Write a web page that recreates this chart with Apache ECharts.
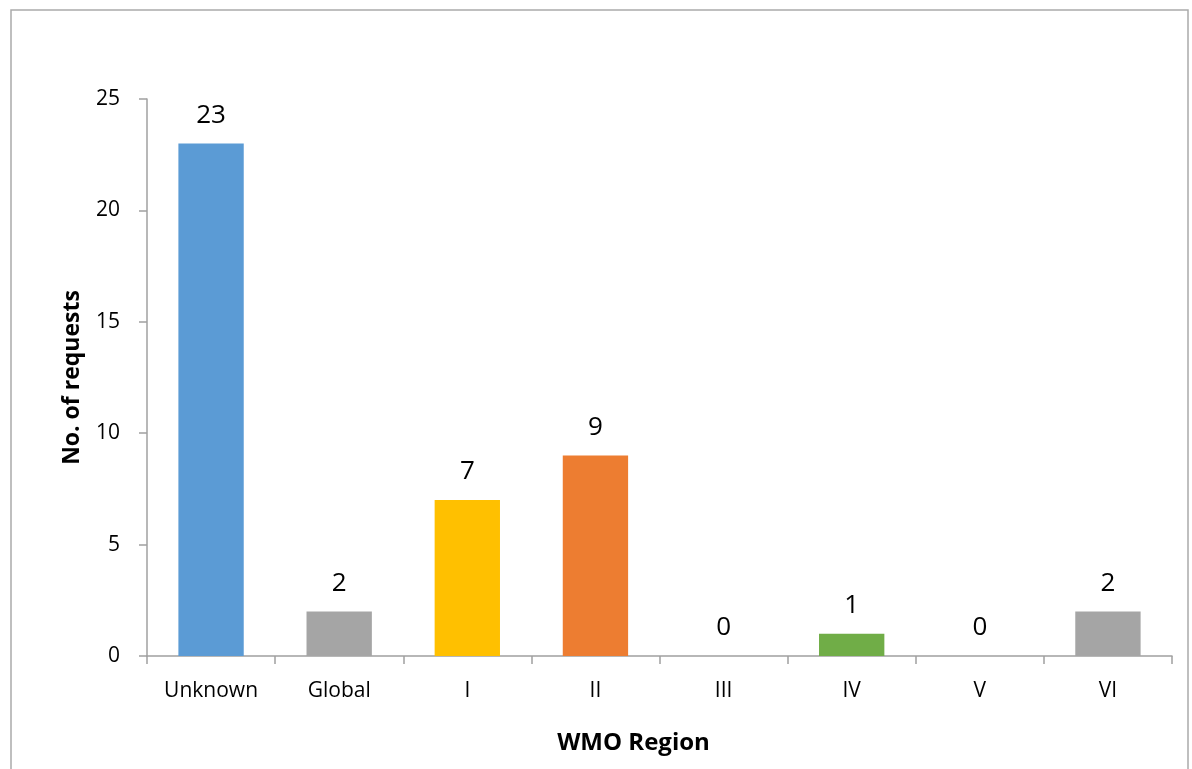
<!DOCTYPE html>
<html><head><meta charset="utf-8">
<script src="https://cdn.jsdelivr.net/npm/echarts@6/dist/echarts.min.js"></script>
<style>html,body{margin:0;padding:0;background:#fff}#c{width:1192px;height:769px}</style>
</head><body><div id="c"></div>
<script>
const categories = ['Unknown','Global','I','II','III','IV','V','VI'];
const values = [23,2,7,9,0,1,0,2];
const colors = ['#5B9BD5','#A5A5A5','#FFC000','#ED7D31','#A5A5A5','#70AD47','#A5A5A5','#A5A5A5'];
const yTicks = {min:0,max:25,interval:5};
const font = '"Open Sans", "Liberation Sans", sans-serif';
const chart = echarts.init(document.getElementById('c'));
chart.setOption({
  animation:false,
  graphic:[{type:'rect',shape:{x:11,y:10,width:1177,height:800},style:{fill:'none',stroke:'#ABABAB',lineWidth:1.5},silent:true}],
  grid:{left:147,right:20,top:99,bottom:113},
  xAxis:{type:'category',data:categories,
    axisLine:{lineStyle:{color:'#A0A0A0',width:1.5}},
    axisTick:{show:true,length:8,alignWithLabel:false,lineStyle:{color:'#A0A0A0',width:1.5}},
    axisLabel:{color:'#000',fontSize:21,fontFamily:font,margin:25},
    name:'WMO Region',nameLocation:'middle',nameGap:75,
    nameTextStyle:{color:'#000',fontSize:24,fontWeight:'bold',fontFamily:font,padding:[0,52,0,0]}},
  yAxis:{type:'value',min:yTicks.min,max:yTicks.max,interval:yTicks.interval,
    axisLine:{show:true,lineStyle:{color:'#A0A0A0',width:1.5}},
    axisTick:{show:true,length:8,lineStyle:{color:'#A0A0A0',width:1.5}},
    splitLine:{show:false},
    axisLabel:{color:'#000',fontSize:21,fontFamily:font,margin:27},
    name:'No. of requests',nameLocation:'middle',nameGap:63,nameRotate:90,
    nameTextStyle:{color:'#000',fontSize:23,fontWeight:'bold',fontFamily:font}},
  series:[{type:'bar',barWidth:'51%',
    data:values.map((v,i)=>({value:v,itemStyle:{color:colors[i]}})),
    label:{show:true,position:'top',distance:15,color:'#000',fontSize:26,fontFamily:font}}]
});
</script></body></html>
